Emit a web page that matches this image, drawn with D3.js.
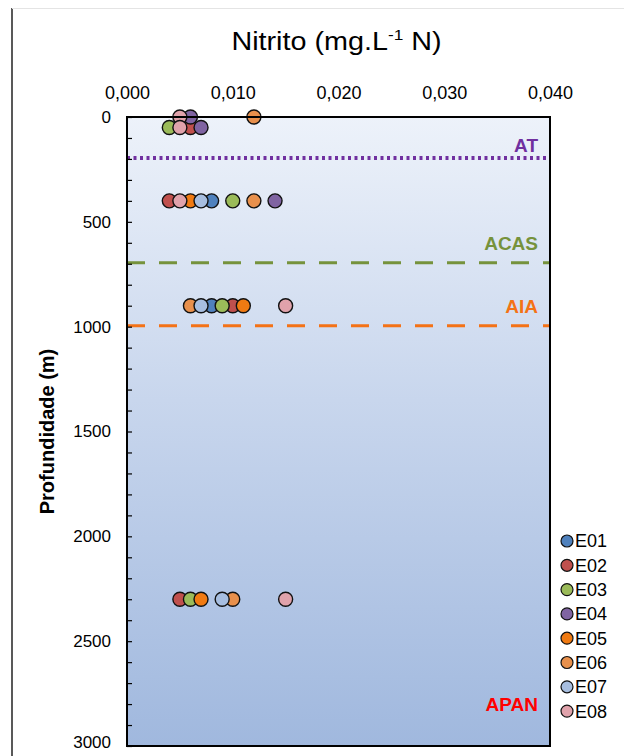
<!DOCTYPE html>
<html>
<head>
<meta charset="utf-8">
<script src="https://cdn.jsdelivr.net/npm/d3@7"></script>
<style>
  body { margin: 0; background: #fff; }
  svg text { font-family: Arial, 'Liberation Sans', sans-serif; }
</style>
</head>
<body>
<div id="chart"></div>
<script>
// dados
const estacoes = ["E01", "E02", "E03", "E04", "E05", "E06", "E07", "E08"];
const profundidades = [0, 50, 400, 900, 2300];
// nitrito por estacao, na ordem das profundidades (null = sem ponto)
const E01 = [null, null, 0.008, 0.008, null];
const E02 = [null, 0.006, 0.004, 0.010, 0.005];
const E03 = [null, 0.004, 0.010, 0.009, 0.006];
const E04 = [0.006, 0.007, 0.014, null, null];
const E05 = [null, null, 0.006, 0.011, 0.007];
const E06 = [0.012, null, 0.012, 0.006, 0.010];
const E07 = [null, null, 0.007, 0.007, 0.009];
const E08 = [0.005, 0.005, 0.005, 0.015, 0.015];
const valores = [E01, E02, E03, E04, E05, E06, E07, E08];

const xTicks = [0, 0.01, 0.02, 0.03, 0.04];
const yTicks = [0, 500, 1000, 1500, 2000, 2500, 3000];

// massas de agua
const massas = ["AT", "ACAS", "AIA"];
const massasProf = [200, 700, 1000];

const cores = ["#4F81BD", "#C0504D", "#9BBB59", "#8064A2", "#F07A12", "#E8904C", "#A7BEE0", "#E0A2AB"];

const svgWidth = 624, svgHeight = 756;
const margin = { top: 117, right: 74, bottom: 10, left: 127 };
const width = svgWidth - margin.left - margin.right;
const height = svgHeight - margin.top - margin.bottom;

const root = d3.select("#chart").append("svg")
    .attr("width", svgWidth)
    .attr("height", svgHeight);

// moldura externa
root.append("line").attr("x1", 12).attr("x2", 12).attr("y1", 8).attr("y2", svgHeight)
    .attr("stroke", "#222").attr("stroke-width", 1.5);
root.append("line").attr("x1", 12).attr("x2", svgWidth).attr("y1", 8.5).attr("y2", 8.5)
    .attr("stroke", "#e4e4e4").attr("stroke-width", 1);

const defs = root.append("defs");
const grad = defs.append("linearGradient").attr("id", "fundo")
    .attr("x1", 0).attr("y1", 0).attr("x2", 0).attr("y2", 1);
grad.append("stop").attr("offset", "0%").attr("stop-color", "#edf2fa");
grad.append("stop").attr("offset", "45%").attr("stop-color", "#c8d6ed");
grad.append("stop").attr("offset", "100%").attr("stop-color", "#a0b8de");

const svg = root.append("g").attr("transform", `translate(${margin.left},${margin.top})`);

const x = d3.scaleLinear().domain([0, 0.04]).range([0, width]);
const y = d3.scaleLinear().domain([0, 3000]).range([0, height]);
const color = d3.scaleOrdinal().domain(estacoes).range(cores);

svg.append("rect").attr("width", width).attr("height", height).attr("fill", "url(#fundo)");

// linhas das massas de agua
const estilos = [
  { cor: "#7030A0", dash: "3,3.5", w: 4 },
  { cor: "#76923C", dash: "18,14", w: 3 },
  { cor: "#F47216", dash: "18,14", w: 3 }
];
massas.forEach((m, i) => {
  svg.append("line")
    .attr("x1", 0).attr("x2", width)
    .attr("y1", y(massasProf[i]) - 1).attr("y2", y(massasProf[i]) - 1)
    .attr("stroke", estilos[i].cor)
    .attr("stroke-width", estilos[i].w)
    .attr("stroke-dasharray", estilos[i].dash);
});

const rotulos = [
  { t: "AT", prof: 200, cor: "#7030A0", dy: -7 },
  { t: "ACAS", prof: 700, cor: "#76923C", dy: -14 },
  { t: "AIA", prof: 1000, cor: "#F47216", dy: -14 },
  { t: "APAN", prof: 2850, cor: "#FF0000", dy: -4 }
];
svg.selectAll(".rotulo").data(rotulos).enter().append("text")
    .attr("class", "rotulo")
    .attr("x", width - 12)
    .attr("y", d => y(d.prof) + d.dy)
    .attr("text-anchor", "end")
    .attr("font-weight", "bold")
    .attr("font-size", 19)
    .attr("fill", d => d.cor)
    .text(d => d.t);

// pontos
const pontos = [];
estacoes.forEach((e, i) => {
  valores[i].forEach((v, j) => {
    if (v !== null) pontos.push({ est: e, v: v, prof: profundidades[j] });
  });
});

svg.selectAll(".ponto").data(pontos).enter().append("circle")
    .attr("class", "ponto")
    .attr("cx", d => x(d.v))
    .attr("cy", d => y(d.prof))
    .attr("r", 7)
    .attr("fill", d => color(d.est))
    .attr("stroke", "#111")
    .attr("stroke-width", 1.4);

// eixos
const yAxis = svg.append("g")
    .call(d3.axisLeft(y)
      .tickValues(d3.range(0, 3001, 100))
      .tickSizeInner(-5).tickSizeOuter(0)
      .tickPadding(16)
      .tickFormat(d => yTicks.includes(d) ? d : ""));
yAxis.select(".domain").remove();
yAxis.selectAll(".tick line").attr("stroke", "#000").attr("stroke-width", 1.2);
yAxis.selectAll("text").attr("font-size", 17).attr("fill", "#000");
// ultimo rotulo um pouco acima para nao cortar na borda
yAxis.selectAll("text").filter(d => d === 3000).attr("dy", "0.1em");

const xAxis = svg.append("g")
    .call(d3.axisTop(x).tickValues(xTicks).tickSize(0).tickPadding(18)
      .tickFormat(d => d3.format(".3f")(d).replace(".", ",")));
xAxis.select(".domain").remove();
xAxis.selectAll("text").attr("font-size", 18).attr("fill", "#000");

// borda da area
svg.append("rect").attr("width", width).attr("height", height)
    .attr("fill", "none").attr("stroke", "#000").attr("stroke-width", 2);

// titulo
const cx = margin.left + width / 2 - 2;
const titulo = root.append("text")
    .attr("transform", `translate(${cx},50) scale(1.15,1)`)
    .attr("text-anchor", "middle")
    .attr("font-size", 25);
titulo.append("tspan").text("Nitrito (mg.L");
titulo.append("tspan").attr("font-size", 15).attr("dy", -10).text("-1");
titulo.append("tspan").attr("dy", 10).text(" N)");

root.append("text")
    .attr("transform", `translate(54,${margin.top + y(1500)}) rotate(-90)`)
    .attr("text-anchor", "middle")
    .attr("font-weight", "bold")
    .attr("font-size", 20)
    .text("Profundidade (m)");

// legenda
const legend = root.append("g").selectAll("g")
    .data(estacoes).enter().append("g")
    .attr("transform", (d, i) => `translate(567,${541 + i * 24.3})`);
legend.append("circle").attr("r", 6).attr("fill", d => color(d))
    .attr("stroke", "#111").attr("stroke-width", 1.2);
legend.append("text").attr("x", 8).attr("dy", "0.36em")
    .attr("font-size", 18).text(d => d);
</script>
</body>
</html>
